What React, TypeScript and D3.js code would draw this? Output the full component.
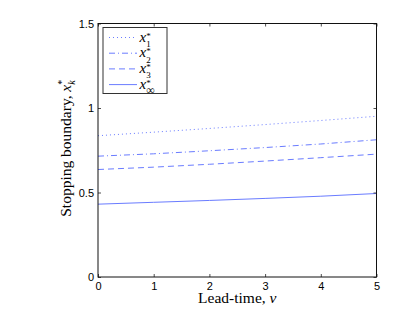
import React, { useEffect, useRef } from "react";
import * as d3 from "d3";

const leadTime = [0, 1, 2, 3, 4, 5];
const boundaryX1 = [0.836, 0.857, 0.879, 0.902, 0.926, 0.951];
const boundaryX2 = [0.715, 0.729, 0.747, 0.766, 0.787, 0.812];
const boundaryX3 = [0.636, 0.65, 0.667, 0.686, 0.706, 0.727];
const boundaryXInf = [0.431, 0.442, 0.453, 0.465, 0.478, 0.494];
const xTicks = [0, 1, 2, 3, 4, 5];
const yTicks = [0, 0.5, 1, 1.5];
const seriesSubs = ["1", "2", "3", "∞"];

const W = 415;
const H = 312;
const L = 98;
const R = 376.5;
const T = 23.5;
const B = 277;
const COLOR = "#6a7cff";

export default function App() {
  const ref = useRef<SVGSVGElement | null>(null);

  useEffect(() => {
    const svg = d3.select(ref.current);
    svg.selectAll("*").remove();
    const x = d3.scaleLinear().domain([0, 5]).range([L, R]);
    const y = d3.scaleLinear().domain([0, 1.5]).range([B, T]);

    const series = [boundaryX1, boundaryX2, boundaryX3, boundaryXInf];
    const dashes = ["1,3", "6,3,1,3", "6,4", null];

    const line = d3
      .line<number>()
      .x((_, i) => x(leadTime[i]))
      .y((d) => y(d));

    series.forEach((s, i) => {
      const p = svg
        .append("path")
        .attr("d", line(s) as string)
        .attr("fill", "none")
        .attr("stroke", COLOR)
        .attr("stroke-width", 1);
      if (dashes[i]) p.attr("stroke-dasharray", dashes[i] as string);
    });

    const fmt = (d: any) => String(d);
    const tickFont = (g: any) =>
      g
        .selectAll("text")
        .attr("font-family", "'Liberation Sans', Arial, sans-serif")
        .attr("font-size", 11)
        .attr("fill", "#000");
    const clean = (g: any) => {
      g.select(".domain").remove();
      g.selectAll(".tick line").attr("stroke", "#222").attr("stroke-width", 0.8);
    };

    svg
      .append("g")
      .attr("transform", `translate(0,${B})`)
      .call(d3.axisBottom(x).tickValues(xTicks).tickFormat(fmt).tickSizeInner(-3).tickSizeOuter(0).tickPadding(5))
      .call(clean)
      .call(tickFont);
    svg
      .append("g")
      .attr("transform", `translate(0,${T})`)
      .call(d3.axisTop(x).tickValues(xTicks).tickFormat(() => "").tickSizeInner(-3).tickSizeOuter(0))
      .call(clean);
    svg
      .append("g")
      .attr("transform", `translate(${L},0)`)
      .call(d3.axisLeft(y).tickValues(yTicks).tickFormat(fmt).tickSizeInner(-3).tickSizeOuter(0).tickPadding(4))
      .call(clean)
      .call(tickFont);
    svg
      .append("g")
      .attr("transform", `translate(${R},0)`)
      .call(d3.axisRight(y).tickValues(yTicks).tickFormat(() => "").tickSizeInner(-3).tickSizeOuter(0))
      .call(clean);

    svg
      .append("rect")
      .attr("x", L)
      .attr("y", T)
      .attr("width", R - L)
      .attr("height", B - T)
      .attr("fill", "none")
      .attr("stroke", "#111")
      .attr("stroke-width", 1);

    // Legend
    const lg = svg.append("g");
    lg.append("rect")
      .attr("x", 103)
      .attr("y", 27.5)
      .attr("width", 64)
      .attr("height", 66)
      .attr("fill", "#fff")
      .attr("stroke", "#333")
      .attr("stroke-width", 1);
    seriesSubs.forEach((sub, i) => {
      const ry = 37.5 + i * 15.7;
      const p = lg
        .append("line")
        .attr("x1", 109)
        .attr("x2", 137)
        .attr("y1", ry)
        .attr("y2", ry)
        .attr("stroke", COLOR)
        .attr("stroke-width", 1);
      if (dashes[i]) p.attr("stroke-dasharray", dashes[i] as string);
      const t = lg
        .append("text")
        .attr("x", 139.5)
        .attr("y", ry + 4)
        .attr("font-family", "'Liberation Serif', 'Times New Roman', serif")
        .attr("font-size", 15);
      t.append("tspan").attr("font-style", "italic").text("x");
      t.append("tspan").attr("font-size", 9).attr("dy", -3).text("*");
      t.append("tspan")
        .attr("font-size", sub === "∞" ? 12 : 9)
        .attr("dx", -4.5)
        .attr("dy", 8.5)
        .text(sub);
    });

    // Axis labels
    svg
      .append("text")
      .attr("x", (L + R) / 2)
      .attr("y", 303)
      .attr("text-anchor", "middle")
      .attr("font-family", "'Liberation Serif', 'Times New Roman', serif")
      .attr("font-size", 15.5)
      .call((t: any) => {
        t.append("tspan").text("Lead-time, ");
        t.append("tspan").attr("font-style", "italic").text("ν");
      });

    const yl = svg
      .append("text")
      .attr("transform", `translate(71,${(T + B) / 2 - 2}) rotate(-90)`)
      .attr("text-anchor", "middle")
      .attr("font-family", "'Liberation Serif', 'Times New Roman', serif")
      .attr("font-size", 15.5);
    yl.append("tspan").text("Stopping boundary, ");
    yl.append("tspan").attr("font-style", "italic").text("x");
    yl.append("tspan").attr("font-size", 10).attr("dy", -6).text("*");
    yl.append("tspan").attr("font-size", 10).attr("font-style", "italic").attr("dx", -5).attr("dy", 10).text("k");
  }, []);

  return (
    <div style={{ position: "absolute", left: 0, top: 0, width: W, height: H, background: "#fff" }}>
      <svg ref={ref} width={W} height={H} />
    </div>
  );
}
